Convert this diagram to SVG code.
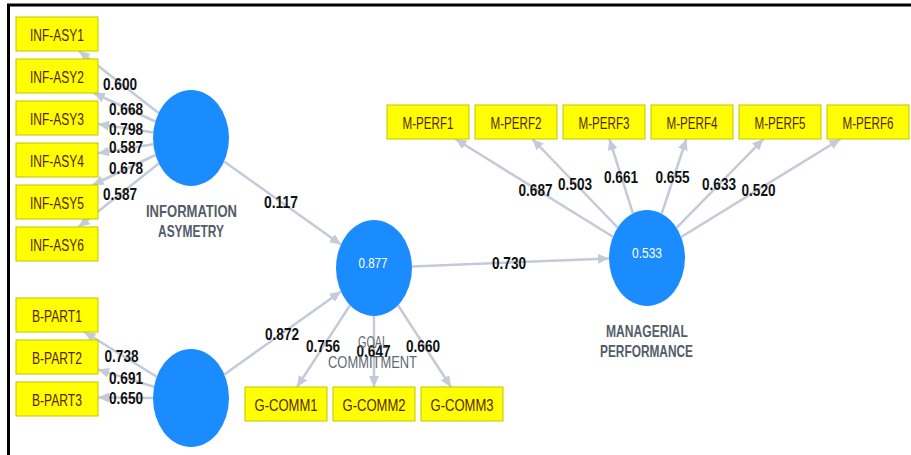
<svg xmlns="http://www.w3.org/2000/svg" width="911" height="455" viewBox="0 0 911 455">
  <style>
    .ind rect { fill: #ffff00; stroke: #c4c400; stroke-width: 1; }
    .ind text { font-family: "Liberation Sans", Arial, sans-serif; font-size: 16px; fill: #5a1e0a; text-anchor: middle; }
    .lv ellipse { fill: #1a8cff; }
    .lv .val { font-family: "Liberation Sans", Arial, sans-serif; font-size: 15.5px; fill: #ffffff; text-anchor: middle; }
    .lv .name { font-family: "Liberation Sans", Arial, sans-serif; font-size: 16.5px; font-weight: bold; fill: #535d6a; text-anchor: middle; }
    .lv .name.light { font-weight: normal; fill: #5f6873; }
    .edges line { stroke: #c3cad8; stroke-width: 2.5; marker-end: url(#arr); }
    .coef { font-family: "Liberation Sans", Arial, sans-serif; font-size: 16.5px; font-weight: bold; fill: #111111; text-anchor: middle; }
  </style>
  <defs>
    <marker id="arr" markerUnits="userSpaceOnUse" markerWidth="12" markerHeight="10" refX="11" refY="5" orient="auto">
      <path d="M0,0 L11,5 L0,10 Z" fill="#c3cad8"/>
    </marker>
  </defs>

  <rect width="911" height="455" fill="#ffffff"/>
  <!-- frame -->
  <path d="M8.5,455 V5 H911" fill="none" stroke="#000000" stroke-width="3"/>

  <!-- connectors -->
  <g id="connectors" class="edges">
    <!-- information asymmetry -> indicators -->
    <line x1="158.6" y1="112.9" x2="79" y2="51"/>
    <line x1="155.3" y1="121.5" x2="93.7" y2="93"/>
    <line x1="153.3" y1="132.4" x2="98" y2="124.1"/>
    <line x1="153.3" y1="144.2" x2="98" y2="153.3"/>
    <line x1="155.4" y1="155" x2="92.6" y2="185"/>
    <line x1="158.8" y1="163.5" x2="78.5" y2="227"/>
    <!-- b-part -> indicators -->
    <line x1="156.7" y1="376.8" x2="84.4" y2="332"/>
    <line x1="154" y1="386.7" x2="98" y2="369.5"/>
    <line x1="153" y1="398" x2="98" y2="397.5"/>
    <!-- structural paths -->
    <line x1="224.1" y1="161.5" x2="340.9" y2="244.5"/>
    <line x1="224.3" y1="374.4" x2="340.9" y2="291.5"/>
    <line x1="412" y1="266.6" x2="609" y2="258.4"/>
    <!-- goal commitment -> indicators -->
    <line x1="350" y1="305.2" x2="297" y2="387"/>
    <line x1="374" y1="316" x2="374" y2="387"/>
    <line x1="398" y1="305.2" x2="451" y2="387"/>
    <!-- managerial performance -> indicators -->
    <line x1="612.9" y1="236.8" x2="455.4" y2="139"/>
    <line x1="617.6" y1="227.5" x2="532.4" y2="139"/>
    <line x1="632.9" y1="213.4" x2="609.4" y2="139"/>
    <line x1="661.7" y1="213.7" x2="686.4" y2="139"/>
    <line x1="676.5" y1="227.8" x2="763.4" y2="139"/>
    <line x1="681.2" y1="237" x2="840.4" y2="139"/>
  </g>

  <!-- path coefficients and loadings -->
  <g id="coefficients" class="coef">
    <text x="120" y="90" textLength="34" lengthAdjust="spacingAndGlyphs">0.600</text>
    <text x="126" y="115" textLength="34" lengthAdjust="spacingAndGlyphs">0.668</text>
    <text x="126" y="135" textLength="34" lengthAdjust="spacingAndGlyphs">0.798</text>
    <text x="126" y="153" textLength="34" lengthAdjust="spacingAndGlyphs">0.587</text>
    <text x="126" y="174" textLength="34" lengthAdjust="spacingAndGlyphs">0.678</text>
    <text x="120" y="200" textLength="34" lengthAdjust="spacingAndGlyphs">0.587</text>
    <text x="281" y="208" textLength="34" lengthAdjust="spacingAndGlyphs">0.117</text>
    <text x="121.5" y="362" textLength="34" lengthAdjust="spacingAndGlyphs">0.738</text>
    <text x="126" y="384" textLength="34" lengthAdjust="spacingAndGlyphs">0.691</text>
    <text x="126" y="404" textLength="34" lengthAdjust="spacingAndGlyphs">0.650</text>
    <text x="282" y="339.5" textLength="34" lengthAdjust="spacingAndGlyphs">0.872</text>
    <text x="323" y="352" textLength="34" lengthAdjust="spacingAndGlyphs">0.756</text>
    <text x="373.5" y="357" textLength="34" lengthAdjust="spacingAndGlyphs">0.647</text>
    <text x="423" y="352" textLength="34" lengthAdjust="spacingAndGlyphs">0.660</text>
    <text x="509" y="269" textLength="34" lengthAdjust="spacingAndGlyphs">0.730</text>
    <text x="535.5" y="196" textLength="34" lengthAdjust="spacingAndGlyphs">0.687</text>
    <text x="575" y="190" textLength="34" lengthAdjust="spacingAndGlyphs">0.503</text>
    <text x="621" y="183" textLength="34" lengthAdjust="spacingAndGlyphs">0.661</text>
    <text x="672.5" y="183" textLength="34" lengthAdjust="spacingAndGlyphs">0.655</text>
    <text x="719" y="190" textLength="34" lengthAdjust="spacingAndGlyphs">0.633</text>
    <text x="758.5" y="196" textLength="34" lengthAdjust="spacingAndGlyphs">0.520</text>
  </g>

  <!-- latent variables -->
  <g id="information-asymetry" class="lv">
    <ellipse cx="191" cy="138" rx="38" ry="48"/>
    <text class="name" x="191.5" y="217" textLength="91" lengthAdjust="spacingAndGlyphs">INFORMATION</text>
    <text class="name" x="191" y="237" textLength="66" lengthAdjust="spacingAndGlyphs">ASYMETRY</text>
  </g>
  <g id="b-part" class="lv">
    <ellipse cx="191" cy="398" rx="38" ry="49"/>
  </g>
  <g id="goal-commitment" class="lv">
    <ellipse cx="374" cy="268" rx="38" ry="48"/>
    <text class="val" x="373" y="268" textLength="29" lengthAdjust="spacingAndGlyphs">0.877</text>
    <text class="name light" x="373" y="348" textLength="30" lengthAdjust="spacingAndGlyphs">GOAL</text>
    <text class="name light" x="372.5" y="368" textLength="89" lengthAdjust="spacingAndGlyphs">COMMITMENT</text>
  </g>
  <g id="managerial-performance" class="lv">
    <ellipse cx="647" cy="258" rx="38" ry="48"/>
    <text class="val" x="647" y="258" textLength="30" lengthAdjust="spacingAndGlyphs">0.533</text>
    <text class="name" x="647" y="337" textLength="82" lengthAdjust="spacingAndGlyphs">MANAGERIAL</text>
    <text class="name" x="646.5" y="357" textLength="93" lengthAdjust="spacingAndGlyphs">PERFORMANCE</text>
  </g>

  <!-- indicators -->
  <g id="inf-asy1" class="ind"><rect x="16" y="17" width="82" height="34"/><text x="57" y="40.5" textLength="54" lengthAdjust="spacingAndGlyphs">INF-ASY1</text></g>
  <g id="inf-asy2" class="ind"><rect x="16" y="59" width="82" height="34"/><text x="57" y="82.5" textLength="54" lengthAdjust="spacingAndGlyphs">INF-ASY2</text></g>
  <g id="inf-asy3" class="ind"><rect x="16" y="101" width="82" height="34"/><text x="57" y="124.5" textLength="54" lengthAdjust="spacingAndGlyphs">INF-ASY3</text></g>
  <g id="inf-asy4" class="ind"><rect x="16" y="143" width="82" height="34"/><text x="57" y="166.5" textLength="54" lengthAdjust="spacingAndGlyphs">INF-ASY4</text></g>
  <g id="inf-asy5" class="ind"><rect x="16" y="185" width="82" height="34"/><text x="57" y="208.5" textLength="54" lengthAdjust="spacingAndGlyphs">INF-ASY5</text></g>
  <g id="inf-asy6" class="ind"><rect x="16" y="227" width="82" height="34"/><text x="57" y="250.5" textLength="54" lengthAdjust="spacingAndGlyphs">INF-ASY6</text></g>

  <g id="b-part1" class="ind"><rect x="16" y="298" width="82" height="34"/><text x="57" y="321.5" textLength="50" lengthAdjust="spacingAndGlyphs">B-PART1</text></g>
  <g id="b-part2" class="ind"><rect x="16" y="340" width="82" height="34"/><text x="57" y="363.5" textLength="50" lengthAdjust="spacingAndGlyphs">B-PART2</text></g>
  <g id="b-part3" class="ind"><rect x="16" y="382" width="82" height="34"/><text x="57" y="405.5" textLength="50" lengthAdjust="spacingAndGlyphs">B-PART3</text></g>

  <g id="g-comm1" class="ind"><rect x="245" y="387" width="82" height="34"/><text x="286" y="410.5" textLength="63" lengthAdjust="spacingAndGlyphs">G-COMM1</text></g>
  <g id="g-comm2" class="ind"><rect x="333" y="387" width="82" height="34"/><text x="374" y="410.5" textLength="63" lengthAdjust="spacingAndGlyphs">G-COMM2</text></g>
  <g id="g-comm3" class="ind"><rect x="421" y="387" width="82" height="34"/><text x="462" y="410.5" textLength="63" lengthAdjust="spacingAndGlyphs">G-COMM3</text></g>

  <g id="m-perf1" class="ind"><rect x="387" y="105" width="82" height="34"/><text x="428" y="128.5" textLength="51" lengthAdjust="spacingAndGlyphs">M-PERF1</text></g>
  <g id="m-perf2" class="ind"><rect x="475" y="105" width="82" height="34"/><text x="516" y="128.5" textLength="51" lengthAdjust="spacingAndGlyphs">M-PERF2</text></g>
  <g id="m-perf3" class="ind"><rect x="563" y="105" width="82" height="34"/><text x="604" y="128.5" textLength="51" lengthAdjust="spacingAndGlyphs">M-PERF3</text></g>
  <g id="m-perf4" class="ind"><rect x="651" y="105" width="82" height="34"/><text x="692" y="128.5" textLength="51" lengthAdjust="spacingAndGlyphs">M-PERF4</text></g>
  <g id="m-perf5" class="ind"><rect x="739" y="105" width="82" height="34"/><text x="780" y="128.5" textLength="51" lengthAdjust="spacingAndGlyphs">M-PERF5</text></g>
  <g id="m-perf6" class="ind"><rect x="827" y="105" width="82" height="34"/><text x="868" y="128.5" textLength="51" lengthAdjust="spacingAndGlyphs">M-PERF6</text></g>
</svg>
